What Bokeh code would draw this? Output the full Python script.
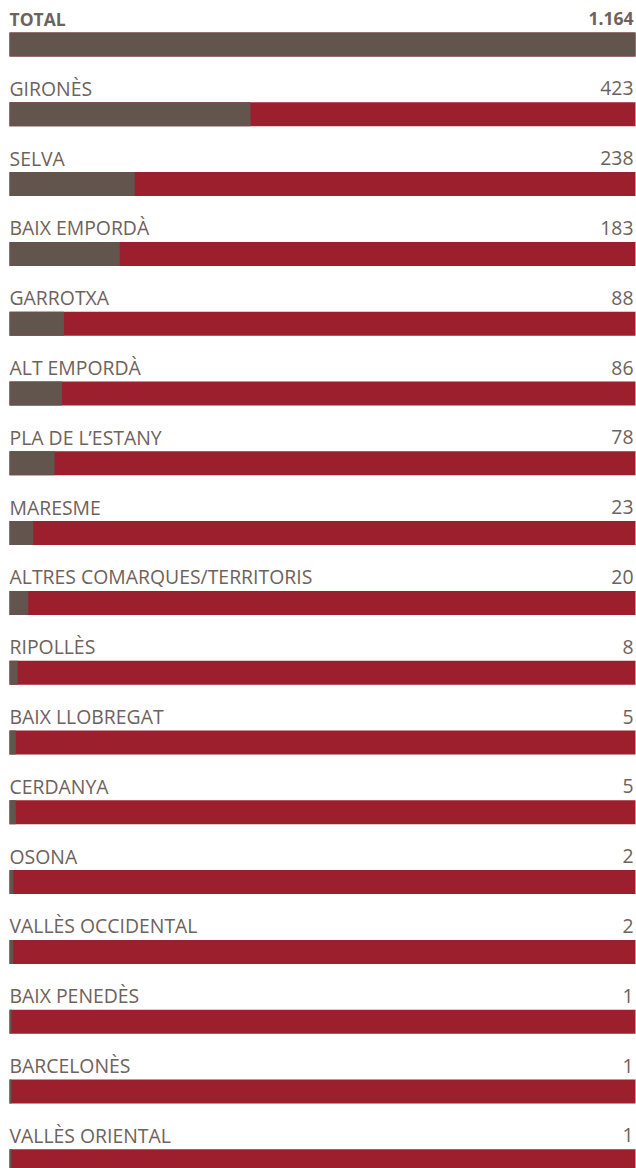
from bokeh.plotting import figure
from bokeh.models import Range1d, ColumnDataSource
from bokeh.core.properties import value
from bokeh.embed import file_html
from bokeh.resources import INLINE

# --- data ---
categories = ["TOTAL", "GIRONÈS", "SELVA", "BAIX EMPORDÀ", "GARROTXA", "ALT EMPORDÀ",
              "PLA DE L\u2019ESTANY", "MARESME", "ALTRES COMARQUES/TERRITORIS", "RIPOLLÈS",
              "BAIX LLOBREGAT", "CERDANYA", "OSONA", "VALLÈS OCCIDENTAL", "BAIX PENEDÈS",
              "BARCELONÈS", "VALLÈS ORIENTAL"]
counts = [1164, 423, 238, 183, 88, 86, 78, 23, 20, 8, 5, 5, 2, 2, 1, 1, 1]
count_labels = ["1.164", "423", "238", "183", "88", "86", "78", "23", "20", "8", "5", "5",
                "2", "2", "1", "1", "1"]
# grey share of each bar (percent of bar length)
bar_share = [100, 38.5, 20.0, 17.6, 8.7, 8.4, 7.2, 3.8, 3.0, 1.3, 1.0, 1.0, 0.6, 0.6, 0.3, 0.3, 0.3]

GREY = "#62554d"
RED = "#9c1f2e"
TEXT = "#6e625c"

W, H = 636, 1168
row_step = 69.8
bar_h = 24
first_top = 32
text_shift = 14  # distance from bar top to text anchor

n = len(categories)
tops = [first_top + i * row_step for i in range(n)]
bottoms = [t + bar_h for t in tops]
baselines = [t - text_shift for t in tops]

src = ColumnDataSource(dict(
    share=bar_share, full=[100] * n, zero=[0] * n, top=tops, bottom=bottoms,
))

scale = 626 / 100.0
x0 = -9 / scale
p = figure(width=W, height=H, output_backend="svg", toolbar_location=None,
           x_range=Range1d(x0, x0 + W / scale), y_range=Range1d(H, 0),
           min_border=0, min_border_left=0, min_border_right=0,
           min_border_top=0, min_border_bottom=0)
p.axis.visible = False
p.grid.visible = False
p.outline_line_color = None
p.background_fill_color = "white"
p.border_fill_color = "white"

p.quad(left="zero", right="full", top="top", bottom="bottom", source=src,
       fill_color=RED, line_color=None)
p.quad(left="zero", right="share", top="top", bottom="bottom", source=src,
       fill_color=GREY, line_color=None)

# regular rows
reg = ColumnDataSource(dict(cat=categories[1:], lab=count_labels[1:], base=baselines[1:],
                            x0=[0] * (n - 1), x1=[100] * (n - 1)))
p.text(x="x0", y="base", text="cat", source=reg, text_font=value("Open Sans"),
       text_font_size="19.4px", text_color=TEXT, text_baseline="alphabetic", x_offset=0)
p.text(x="x1", y="base", text="lab", source=reg, text_font=value("Open Sans"),
       text_font_size="19.4px", text_color=TEXT, text_baseline="alphabetic",
       text_align="right", x_offset=-2)

tot = ColumnDataSource(dict(cat=categories[:1], lab=count_labels[:1], base=baselines[:1],
                            x0=[0], x1=[100]))
p.text(x="x0", y="base", text="cat", source=tot, text_font=value("Open Sans"),
       text_font_size="17.5px", text_font_style="bold", text_color=TEXT,
       text_baseline="alphabetic")
p.text(x="x1", y="base", text="lab", source=tot, text_font=value("Open Sans"),
       text_font_size="17.5px", text_font_style="bold", text_color=TEXT,
       text_baseline="alphabetic", text_align="right", x_offset=-2)

open("out.html", "w").write(file_html(p, INLINE))
